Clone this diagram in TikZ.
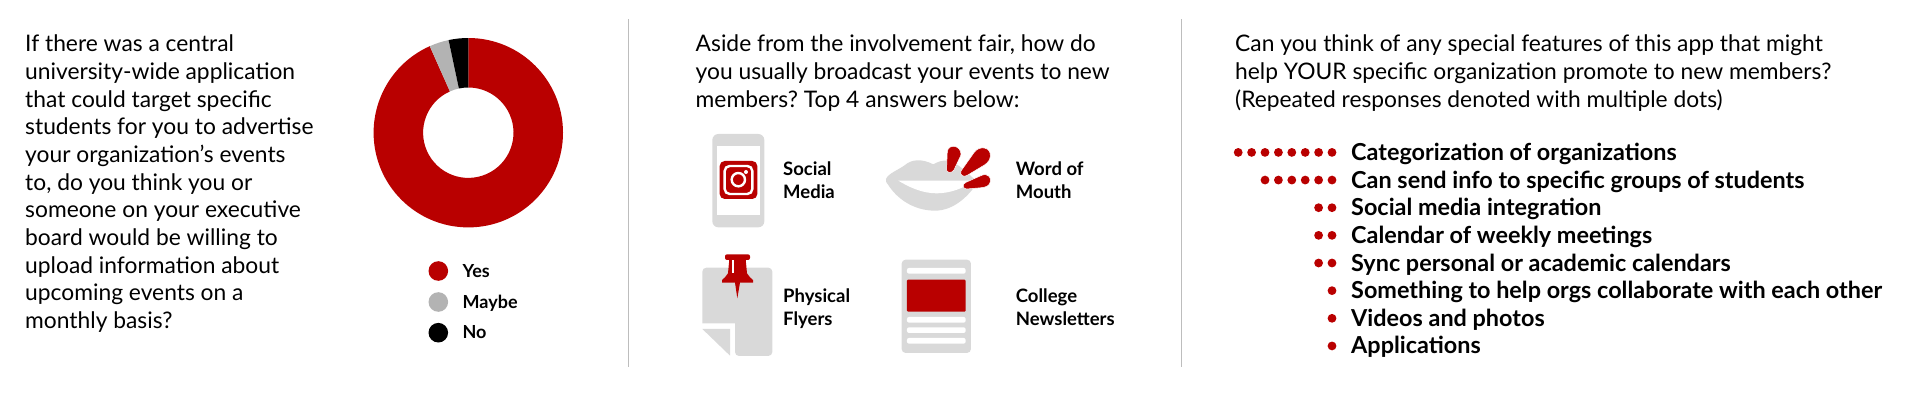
\documentclass[tikz,border=0pt]{standalone}
\usepackage{fontspec}
\setmainfont{Lato}
\frenchspacing
\definecolor{pollred}{HTML}{B90000}
\definecolor{pollgray}{HTML}{B3B3B3}
\definecolor{iconbg}{HTML}{D9D9D9}
\definecolor{rulegray}{HTML}{BDBDBD}
\tikzset{
  qtext/.style={anchor=north west, inner sep=0pt, align=left, font=\fontsize{22.8}{27.65}\selectfont},
  iconlabel/.style={anchor=north west, inner sep=0pt, align=left, font=\bfseries\fontsize{18.5}{22.4}\selectfont},
  legendlabel/.style={anchor=base west, inner sep=0pt, font=\bfseries\fontsize{18}{20}\selectfont},
  listlabel/.style={anchor=base west, inner sep=0pt, font=\bfseries\fontsize{23.4}{26}\selectfont}
}
\begin{document}
\begin{tikzpicture}[x=1pt,y=-1pt]
  \useasboundingbox (0,0) rectangle (1920,415);
  % rules between the panels
  \draw [rulegray, line width=1pt] (628.5,19) -- (628.5,367);
  \draw [rulegray, line width=1pt] (1181.5,19) -- (1181.5,367);

  % first panel
  \node [qtext] (polltext) at (25,35) {If there was a central\\university-wide application\\that could target specific\\students for you to advertise\\your organization’s events\\to, do you think you or\\someone on your executive\\board would be willing to\\upload information about\\upcoming events on a\\monthly basis?};
  % y runs down here, so the angles are negative
  \coordinate (donut) at (468.3,132.7);
  \fill [pollred] (donut) ++(-90:94.7) arc (-90:246:94.7) -- ++(-114:-49.5) arc (246:-90:45.2) -- cycle;
  \fill [pollgray] (donut) ++(-114:94.7) arc (-114:-102:94.7) -- ++(-102:-49.5) arc (-102:-114:45.2) -- cycle;
  \fill [black] (donut) ++(-102:94.7) arc (-102:-90:94.7) -- ++(-90:-49.5) arc (-90:-102:45.2) -- cycle;
  \foreach \name/\ypos/\col/\txt in {yes/271/pollred/Yes, maybe/302/pollgray/Maybe, no/332.7/black/No} {
    \fill [\col] (438.3,\ypos) circle (9.8);
    \node [legendlabel] (legend\name) at (462.4,\ypos+6.2) {\txt};
  }

  % second panel
  \node [qtext] (fairtext) at (695.5,35) {Aside from the involvement fair, how do\\you usually broadcast your events to new\\members? Top 4 answers below:};
  \node [iconlabel] (social) at (783,162) {Social\\Media};
  \node [iconlabel] (word) at (1015.7,162) {Word of\\Mouth};
  \node [iconlabel] (flyers) at (783,289) {Physical\\Flyers};
  \node [iconlabel] (college) at (1015.7,289) {College\\Newsletters};

  % icons, in 3x crop units
  \begin{scope}[shift={(680,110)}, x=0.3333pt, y=-0.3333pt]
    % phone
    \fill [iconbg, rounded corners=6pt] (97,72) rectangle (253,352);
    \fill [white] (111,108) rectangle (240,314);
    \fill [pollred, rounded corners=5pt] (119,153) rectangle (232,267);
    \draw [white, line width=2.4pt, rounded corners=5pt] (134,168) rectangle (217,252);
    \draw [white, line width=2.4pt] (175,209) circle (20);
    \fill [white] (198,186) circle (6);
    % lips
    \fill [iconbg] (618,207) .. controls (625,190) and (655,180) .. (675,165) .. controls (695,148) and (725,145) .. (760,163) .. controls (790,145) and (815,150) .. (840,170) .. controls (860,185) and (880,205) .. (893,217) .. controls (865,260) and (820,302) .. (765,302) .. controls (700,302) and (650,265) .. (625,225) .. controls (618,217) and (617,212) .. (618,207) -- cycle;
    \fill [white] (655,212) -- (885,212) .. controls (850,235) and (810,250) .. (770,250) .. controls (725,250) and (685,230) .. (655,212) -- cycle;
    \draw [fill=pollred, draw=white, line width=0.5pt] (802,125) .. controls (805,100) and (845,105) .. (843,135) -- (822,180) .. controls (815,192) and (795,190) .. (800,172) -- cycle;
    \draw [fill=pollred, draw=white, line width=0.5pt] (843,183) -- (882,128) .. controls (897,105) and (935,110) .. (931,140) .. controls (930,155) and (915,165) .. (905,170) -- (860,197) .. controls (850,202) and (838,195) .. (843,183) -- cycle;
    \draw [fill=pollred, draw=white, line width=0.5pt] (858,217) -- (905,196) .. controls (925,188) and (935,205) .. (931,215) .. controls (930,228) and (915,232) .. (905,233) -- (860,237) .. controls (848,237) and (845,222) .. (858,217) -- cycle;
    % flyer and pin
    \fill [iconbg, rounded corners=4pt] (67,640) [sharp corners] -- (67,485) [rounded corners=4pt] -- (67,473) -- (277,473) -- (277,738) -- (165,738) [sharp corners] -- (165,640) -- cycle;
    \fill [iconbg] (67,657) -- (150,657) -- (150,737) -- cycle;
    \fill [pollred, rounded corners=2pt] (135,433) rectangle (210,450);
    \fill [pollred] (148,448) -- (197,448) -- (201,490) .. controls (205,500) and (215,505) .. (219,510) -- (219,518) -- (180,518) -- (172,565) -- (165,518) -- (126,518) -- (126,510) .. controls (130,505) and (140,500) .. (144,490) -- cycle;
    \fill [white] (155,450) rectangle (163,490);
    % newsletter
    \fill [iconbg, rounded corners=4pt] (665,449) rectangle (873,729);
    \foreach \ypos in {474,621,652,684} {
      \fill [white, rounded corners=2pt] (681,\ypos) rectangle (857,\ypos+17);
    }
    \fill [pollred, rounded corners=1pt] (681,509) rectangle (857,605);
  \end{scope}

  % third panel
  \node [qtext] (apptext) at (1235,35) {Can you think of any special features of this app that might\\help YOUR specific organization promote to new members?\\(Repeated responses denoted with multiple dots)};
  \foreach \row/\votes/\txt in {1/8/Categorization of organizations, 2/6/Can send info to specific groups of students, 3/2/Social media integration, 4/2/Calendar of weekly meetings, 5/2/Sync personal or academic calendars, 6/1/Something to help orgs collaborate with each other, 7/1/Videos and photos, 8/1/Applications} {
    \pgfmathsetmacro{\ypos}{152.4+27.65*(\row-1)}
    \node [listlabel] (item\row) at (1351,\ypos+8) {\txt};
    \foreach \i in {1,...,\votes} {
      \fill [pollred] ({1332-13.4*(\i-1)},\ypos) circle (4.4);
    }
  }
\end{tikzpicture}
\end{document}
